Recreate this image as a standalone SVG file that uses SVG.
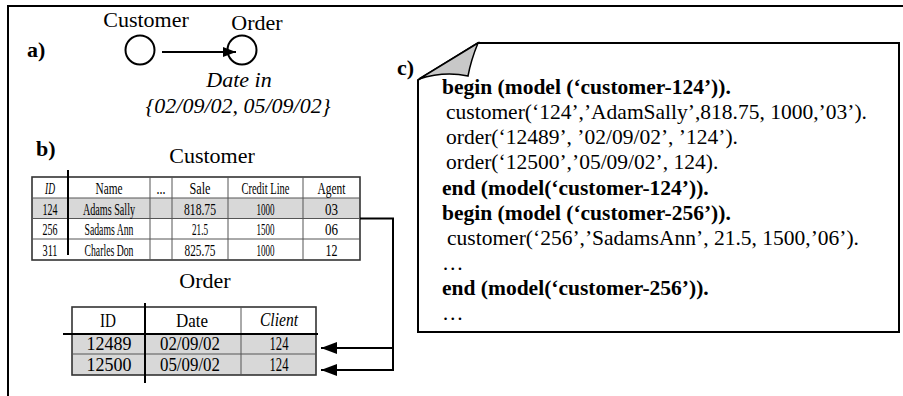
<svg xmlns="http://www.w3.org/2000/svg" width="903" height="396" viewBox="0 0 903 396">
<defs>
<style>
text{font-family:"Liberation Serif","Times New Roman",serif;fill:#000}
.lbl{font-size:22px}
.b{font-weight:bold}
.i{font-style:italic}
.mid{text-anchor:middle}
.code{font-size:21.5px}
.ct{font-size:17px;text-anchor:middle}
.ot{font-size:19px;text-anchor:middle}
.ln{stroke:#000;stroke-width:2;fill:none}
.grid{stroke:#555;stroke-width:1;fill:none}
.tb{stroke:#333;stroke-width:1.6;fill:none}
.thick{stroke:#000;stroke-width:2}
.shade{fill:#d8d8d8}
</style>
<marker id="ah" markerUnits="userSpaceOnUse" viewBox="0 0 16 12" refX="16" refY="6" markerWidth="16" markerHeight="12" orient="auto"><path d="M0,0L16,6L0,12z" fill="#000"/></marker>
<marker id="ahs" markerUnits="userSpaceOnUse" viewBox="0 0 13 10" refX="13" refY="5" markerWidth="13" markerHeight="10" orient="auto"><path d="M0,0L13,5L0,10z" fill="#000"/></marker>
</defs>
<rect width="903" height="396" fill="#fff"/>
<path d="M8,396V6H903" class="ln"/>

<g id="label-a"><text class="lbl b" x="27" y="57">a)</text></g>
<g id="node-customer">
<circle cx="140" cy="50" r="14.5" class="ln"/>
<text class="lbl mid" x="146" y="27">Customer</text>
</g>
<g id="node-order">
<circle cx="242" cy="50" r="14.5" class="ln"/>
<text class="lbl mid" x="257" y="30">Order</text>
</g>
<g id="edge-label">
<text class="lbl i mid" x="239" y="87">Date in</text>
<text class="lbl i mid" x="238" y="113">{02/09/02, 05/09/02}</text>
</g>

<g id="label-c"><text class="lbl b" x="397" y="75">c)</text></g>
<g id="box-c">
<path d="M478,43H899V332H418V80Z" class="ln"/>
<path d="M478,43L419,79Q444,71 468,76Q471,60 478,43Z" fill="#c8c8c8" stroke="#000" stroke-width="1.5"/>
<text class="code b" x="442" y="94">begin (model (‘customer-124’)).</text>
<text class="code" x="446" y="119">customer(‘124’,’AdamSally’,818.75, 1000,’03’).</text>
<text class="code" x="446" y="144">order(‘12489’, ’02/09/02’, ’124’).</text>
<text class="code" x="446" y="169">order(‘12500’,’05/09/02’, 124).</text>
<text class="code b" x="442" y="195">end (model(‘customer-124’)).</text>
<text class="code b" x="442" y="220">begin (model (‘customer-256’)).</text>
<text class="code" x="447" y="245">customer(‘256’,’SadamsAnn’, 21.5, 1500,’06’).</text>
<text class="code" x="442" y="270">…</text>
<text class="code b" x="442" y="295">end (model(‘customer-256’)).</text>
<text class="code" x="442" y="320">…</text>
</g>

<g id="label-b"><text class="lbl b" x="36" y="156">b)</text></g>
<g id="table-customer">
<text class="lbl mid" x="212" y="163">Customer</text>
<rect class="shade" x="32" y="198" width="328" height="20.5"/>
<rect class="tb" x="32" y="177" width="328" height="83"/>
<path class="grid" d="M32,198H360M32,218.5H360M32,239H360M150,177V260M172,177V260M228,177V260M303,177V260"/>
<path class="thick" d="M68,170V255"/>
<text class="ct i" x="50" y="194" textLength="10" lengthAdjust="spacingAndGlyphs">ID</text>
<text class="ct" x="109" y="194" textLength="27" lengthAdjust="spacingAndGlyphs">Name</text>
<text class="ct" x="161" y="194" textLength="9" lengthAdjust="spacingAndGlyphs">...</text>
<text class="ct" x="200" y="194" textLength="21" lengthAdjust="spacingAndGlyphs">Sale</text>
<text class="ct" x="265.5" y="194" textLength="48" lengthAdjust="spacingAndGlyphs">Credit Line</text>
<text class="ct" x="331.5" y="194" textLength="28" lengthAdjust="spacingAndGlyphs">Agent</text>
<text class="ct" x="50" y="214.5" textLength="15" lengthAdjust="spacingAndGlyphs">124</text>
<text class="ct" x="109" y="214.5" textLength="52" lengthAdjust="spacingAndGlyphs">Adams Sally</text>
<text class="ct" x="200" y="214.5" textLength="32" lengthAdjust="spacingAndGlyphs">818.75</text>
<text class="ct" x="265.5" y="214.5" textLength="18" lengthAdjust="spacingAndGlyphs">1000</text>
<text class="ct" x="331.5" y="214.5" textLength="13" lengthAdjust="spacingAndGlyphs">03</text>
<text class="ct" x="50" y="235" textLength="15" lengthAdjust="spacingAndGlyphs">256</text>
<text class="ct" x="109" y="235" textLength="49" lengthAdjust="spacingAndGlyphs">Sadams Ann</text>
<text class="ct" x="200" y="235" textLength="16" lengthAdjust="spacingAndGlyphs">21.5</text>
<text class="ct" x="265.5" y="235" textLength="18" lengthAdjust="spacingAndGlyphs">1500</text>
<text class="ct" x="331.5" y="235" textLength="13" lengthAdjust="spacingAndGlyphs">06</text>
<text class="ct" x="50" y="256" textLength="15" lengthAdjust="spacingAndGlyphs">311</text>
<text class="ct" x="109" y="256" textLength="49" lengthAdjust="spacingAndGlyphs">Charles Don</text>
<text class="ct" x="200" y="256" textLength="31" lengthAdjust="spacingAndGlyphs">825.75</text>
<text class="ct" x="265.5" y="256" textLength="18" lengthAdjust="spacingAndGlyphs">1000</text>
<text class="ct" x="331.5" y="256" textLength="12" lengthAdjust="spacingAndGlyphs">12</text>
</g>

<g id="table-order">
<text class="lbl mid" x="205" y="288">Order</text>
<rect class="shade" x="72" y="334" width="244" height="41"/>
<rect class="tb" x="72" y="307" width="244" height="68"/>
<path class="grid" d="M72,354H316M241,307V375"/>
<path class="thick" d="M63,334H318M145,303V383"/>
<text class="ot" x="108" y="327" textLength="16" lengthAdjust="spacingAndGlyphs">ID</text>
<text class="ot" x="192" y="327" textLength="32" lengthAdjust="spacingAndGlyphs">Date</text>
<text class="ot i" x="279" y="326" textLength="38" lengthAdjust="spacingAndGlyphs">Client</text>
<text class="ot" x="109" y="350" textLength="45" lengthAdjust="spacingAndGlyphs">12489</text>
<text class="ot" x="190" y="350" textLength="60" lengthAdjust="spacingAndGlyphs">02/09/02</text>
<text class="ot" x="279" y="350" textLength="19" lengthAdjust="spacingAndGlyphs">124</text>
<text class="ot" x="109" y="371" textLength="45" lengthAdjust="spacingAndGlyphs">12500</text>
<text class="ot" x="190" y="371" textLength="60" lengthAdjust="spacingAndGlyphs">05/09/02</text>
<text class="ot" x="279" y="371" textLength="19" lengthAdjust="spacingAndGlyphs">124</text>
</g>

<g id="connectors">
<path d="M162,52H236" class="ln" marker-end="url(#ahs)"/>
<path d="M360,218.5H393V370H321" class="ln" marker-end="url(#ah)"/>
<path d="M393,348H321" class="ln" marker-end="url(#ah)"/>
</g>
</svg>
